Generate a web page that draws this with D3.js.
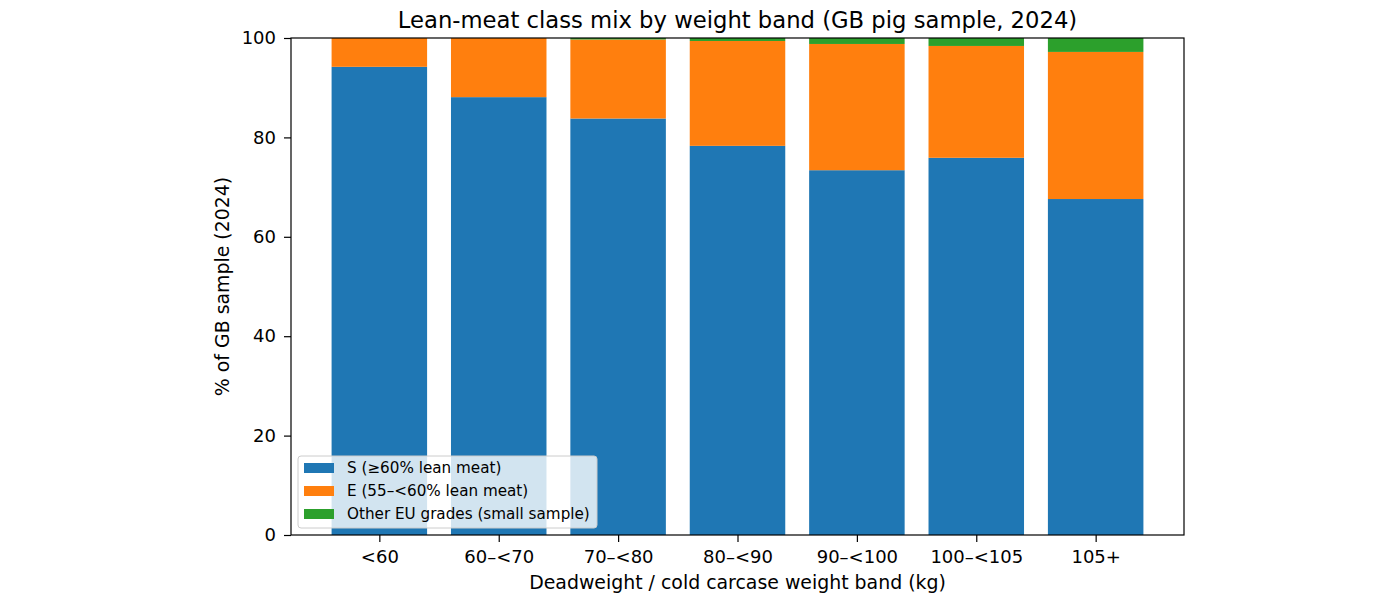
<!DOCTYPE html>
<html><head><meta charset="utf-8">
<script src="https://cdn.jsdelivr.net/npm/d3@7"></script>
<style>body{margin:0;background:#fff}svg{display:block;font-family:"DejaVu Sans",sans-serif}</style>
</head><body><svg id="c" width="1400" height="600"></svg>
<script>
const categories = ["<60","60–<70","70–<80","80–<90","90–<100","100–<105","105+"];
const seriesNames = ["S (≥60% lean meat)","E (55–<60% lean meat)","Other EU grades (small sample)"];
const sValues = [94.2, 88.1, 83.8, 78.3, 73.4, 75.9, 67.6];
const eValues = [5.8, 11.9, 15.9, 21.1, 25.4, 22.5, 29.6];
const otherValues = [0, 0, 0.3, 0.6, 1.2, 1.6, 2.8];
const yTicks = [0, 20, 40, 60, 80, 100];
const colors = ["#1f77b4", "#ff7f0e", "#2ca02c"];

const svg = d3.select("#c");
const L = 291, R = 1184, T = 38, B = 535;
const x = d3.scaleLinear().domain([-0.74, 6.74]).range([L, R]);
const y = d3.scaleLinear().domain([0, 100]).range([B, T]);
const barW = x(0.8) - x(0);

const rows = categories.map((c, i) => ({cat: c, i, s: sValues[i], e: eValues[i], o: otherValues[i]}));
const stack = d3.stack().keys(["s", "e", "o"])(rows);

stack.forEach((layer, k) => {
  svg.append("g").selectAll("rect").data(layer).join("rect")
    .attr("x", d => x(d.data.i) - barW / 2)
    .attr("width", barW)
    .attr("y", d => y(d[1]))
    .attr("height", d => y(d[0]) - y(d[1]))
    .attr("fill", colors[k]);
});

const xAxis = d3.axisBottom(x).tickValues(d3.range(categories.length)).tickFormat(i => categories[i]).tickSizeOuter(0).tickSize(7).tickPadding(8);
const gx = svg.append("g").attr("transform", `translate(0,${B})`).call(xAxis);
const yAxis = d3.axisLeft(y).tickValues(yTicks).tickSizeOuter(0).tickSize(7).tickPadding(8);
const gy = svg.append("g").attr("transform", `translate(${L},0)`).call(yAxis);
[gx, gy].forEach(g => {
  g.select(".domain").remove();
  g.selectAll("text").attr("font-size", 18).attr("font-family", "DejaVu Sans").attr("fill", "#000");
  g.selectAll("line").attr("stroke", "#000").attr("stroke-width", 1.2);
});

svg.append("rect").attr("x", L).attr("y", T).attr("width", R - L).attr("height", B - T)
  .attr("fill", "none").attr("stroke", "#000").attr("stroke-width", 1.2);

svg.append("text").attr("x", (L + R) / 2).attr("y", 28).attr("text-anchor", "middle")
  .attr("font-size", 22.7).text("Lean-meat class mix by weight band (GB pig sample, 2024)");
svg.append("text").attr("x", (L + R) / 2).attr("y", 589).attr("text-anchor", "middle")
  .attr("font-size", 18.9).text("Deadweight / cold carcase weight band (kg)");
svg.append("text").attr("transform", `translate(229,${(T + B) / 2}) rotate(-90)`).attr("text-anchor", "middle")
  .attr("font-size", 18.9).text("% of GB sample (2024)");

const lg = svg.append("g");
lg.append("rect").attr("x", 298).attr("y", 456).attr("width", 299).attr("height", 72).attr("rx", 3)
  .attr("fill", "rgba(255,255,255,0.8)").attr("stroke", "#ccc");
seriesNames.forEach((n, k) => {
  const yy = 468 + k * 23;
  lg.append("rect").attr("x", 304).attr("y", yy - 5).attr("width", 30).attr("height", 10).attr("fill", colors[k]);
  lg.append("text").attr("x", 347).attr("y", yy + 5).attr("font-size", 15.2).text(n);
});
</script></body></html>
